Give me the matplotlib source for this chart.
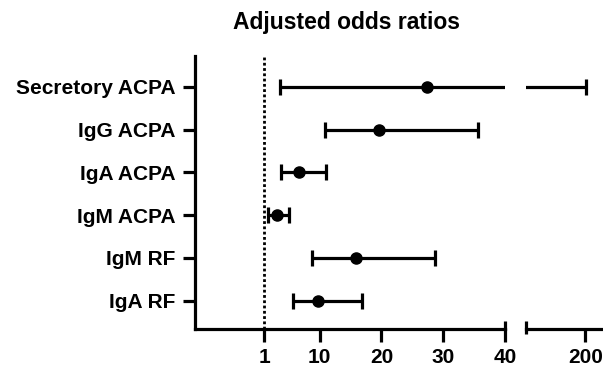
"""
Forest plot of adjusted odds ratios with a broken x axis.
"""
import matplotlib
matplotlib.use("Agg")
import matplotlib.pyplot as plt

plt.rcParams["font.family"] = "Liberation Sans"
plt.rcParams["font.weight"] = "bold"

labels = ["Secretory ACPA", "IgG ACPA", "IgA ACPA", "IgM ACPA", "IgM RF", "IgA RF"]
odds = [27.4, 19.6, 6.6, 3.0, 15.9, 9.7]
lower = [3.6, 10.8, 3.8, 1.7, 8.8, 5.6]
upper = [202.0, 35.7, 11.0, 5.0, 28.7, 16.8]

left_ticks = [1, 10, 20, 30, 40]
right_ticks = [200]

ypos = list(range(len(labels), 0, -1))
xerr = [[o - l for o, l in zip(odds, lower)], [u - o for o, u in zip(odds, upper)]]

fig = plt.figure(figsize=(6.03, 3.67), dpi=100)
ax = fig.add_axes([0.3234, 0.1035, 0.514, 0.7439])
ax2 = fig.add_axes([0.8723, 0.1035, 0.1277, 0.7439])

lw = 2.3
for a in (ax, ax2):
    a.errorbar(odds, ypos, xerr=xerr, fmt="o", color="black", ms=8,
               elinewidth=lw, capsize=5.5, capthick=lw)
    a.set_ylim(0.34, 6.72)
    for s in ("top", "right"):
        a.spines[s].set_visible(False)
    a.spines["bottom"].set_linewidth(2.3)
    a.spines["left"].set_linewidth(2.3)
    a.tick_params(axis="both", width=2.3, length=9, labelsize=15, pad=5)
    for t in a.get_xticklabels() + a.get_yticklabels():
        t.set_fontweight("bold")

ax.set_xlim(-10.2, 40)
ax.axvline(1, color="black", lw=2.0, linestyle=(0, (1, 0.9)), zorder=0)
ax.set_xticks(left_ticks)
ax.set_xticklabels([str(t) for t in left_ticks], fontweight="bold")
ax.set_yticks(ypos)
ax.set_yticklabels(labels, fontweight="bold")
ax.tick_params(axis="y", pad=5)

ax2.set_xlim(100, 230)
ax2.spines["left"].set_visible(False)
ax2.set_yticks([])
ax2.set_xticks(right_ticks)
ax2.set_xticklabels([str(t) for t in right_ticks], fontweight="bold")

# break marks at the ends of the two axis segments
ax.plot([1, 1], [-0.005, 0.028], transform=ax.transAxes, color="black",
        lw=2.3, clip_on=False, solid_capstyle="butt")
ax2.plot([0, 0], [-0.02, 0.028], transform=ax2.transAxes, color="black",
         lw=2.3, clip_on=False, solid_capstyle="butt")

fig.text(346 / 603, 1 - 23 / 367, "Adjusted odds ratios", ha="center", va="center",
         fontsize=16.5, fontweight="bold")

fig.savefig("out.png", dpi=100)
